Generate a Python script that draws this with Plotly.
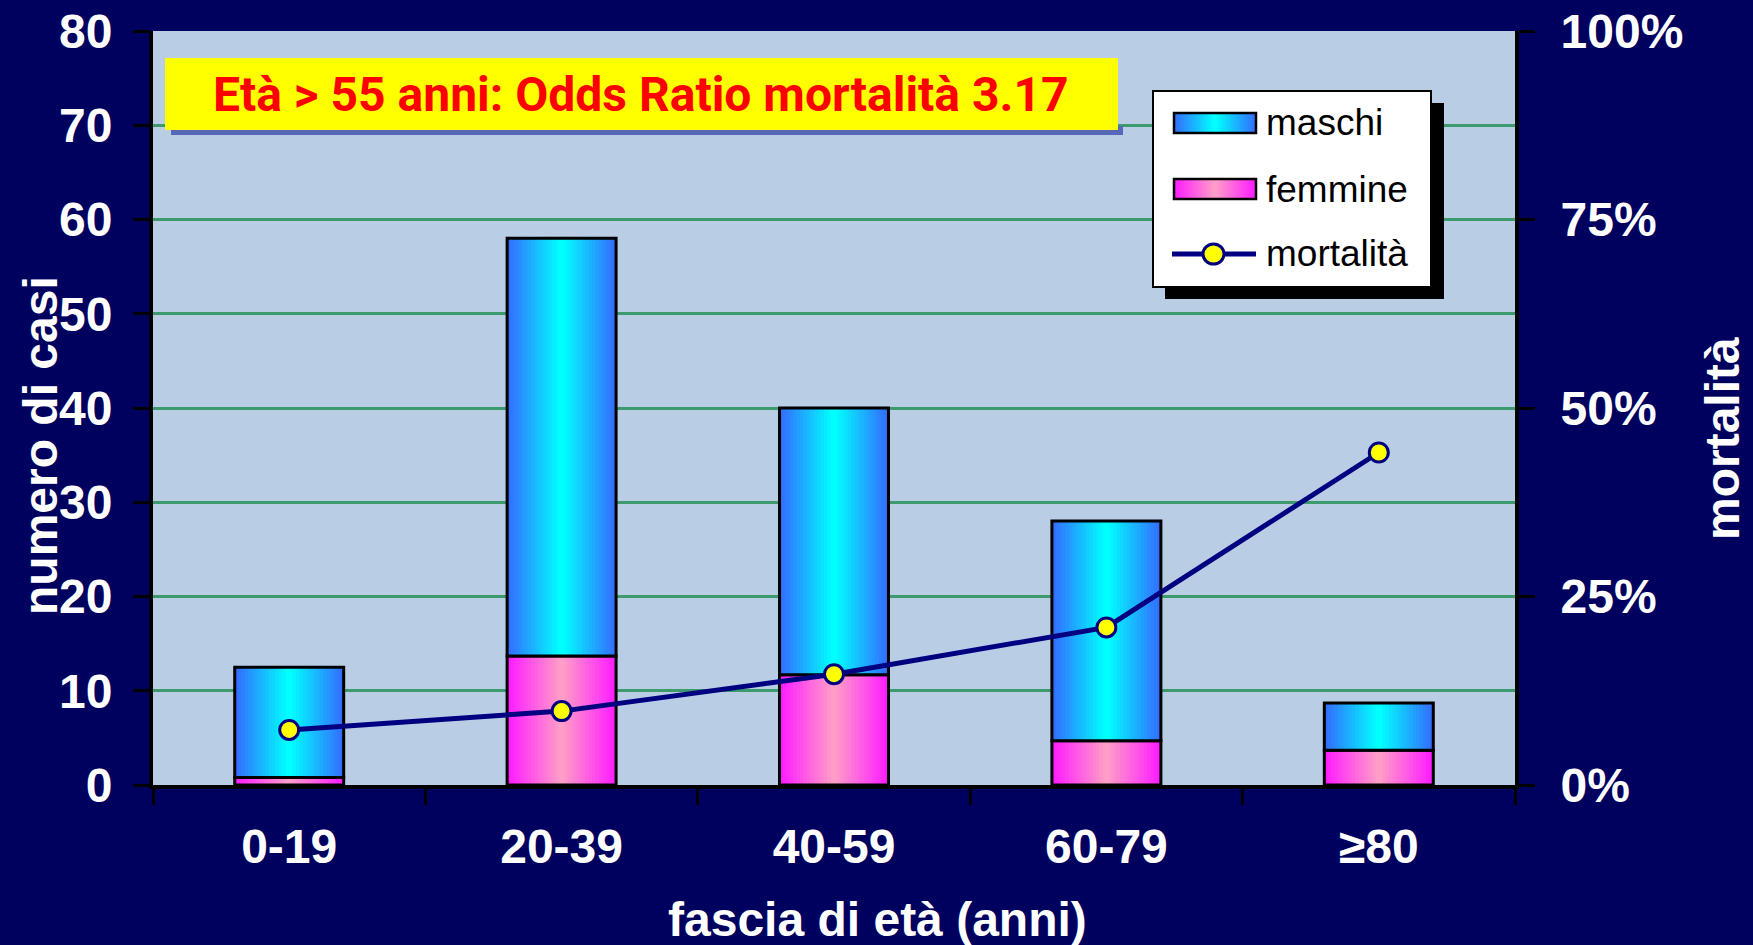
import plotly.graph_objects as go

# ---- data ----
categories = ["0-19", "20-39", "40-59", "60-79", "≥80"]
femmine = [0.8, 13.7, 11.7, 4.7, 3.7]
maschi = [11.7, 44.3, 28.3, 23.3, 5.0]
mortalita = [7.3, 9.8, 14.7, 20.9, 44.1]
y_ticks = [0, 10, 20, 30, 40, 50, 60, 70, 80]
y2_ticks = [0, 25, 50, 75, 100]
y2_ticklabels = ["0%", "25%", "50%", "75%", "100%"]

W, H = 1753, 945
L, R, T, B = 153, 1515, 31, 785
FONT = "Liberation Sans, Arial, sans-serif"
BAR_W = 0.40
N_STEPS = 16
BG = "#00005e"


def px_x(x):
    return (x - L) / (R - L)


def px_y(y):
    return (B - y) / (B - T)


def lerp(c1, c2, t):
    return "rgb(%d,%d,%d)" % tuple(round(a + (b - a) * t) for a, b in zip(c1, c2))


MAS_EDGE, MAS_CEN = (0x33, 0x6e, 0xff), (0x00, 0xff, 0xff)
FEM_EDGE, FEM_CEN = (0xff, 0x1e, 0xff), (0xff, 0x9c, 0xc8)

fig = go.Figure()

for vals, base, edge, cen in [(femmine, [0] * 5, FEM_EDGE, FEM_CEN),
                              (maschi, femmine, MAS_EDGE, MAS_CEN)]:
    for k in range(N_STEPS):
        t = k / (N_STEPS - 1)
        w = BAR_W * (1 - k / N_STEPS)
        fig.add_trace(go.Bar(x=categories, y=vals, base=base, width=w,
                             marker=dict(color=lerp(edge, cen, t), line=dict(width=0)),
                             showlegend=False, hoverinfo="skip"))
    fig.add_trace(go.Bar(x=categories, y=vals, base=base, width=BAR_W,
                         marker=dict(color="rgba(0,0,0,0)", line=dict(color="black", width=3)),
                         showlegend=False, hoverinfo="skip"))

fig.add_trace(go.Scatter(x=categories, y=mortalita, yaxis="y2", mode="lines+markers",
                         line=dict(color="#000080", width=5),
                         marker=dict(size=19, color="#ffff00", line=dict(color="#000080", width=3)),
                         showlegend=False, hoverinfo="skip"))

shapes = []
annots = []

# annotation box (yellow) with shadow
shapes.append(dict(type="rect", xref="paper", yref="paper", layer="above",
                   x0=px_x(171), x1=px_x(1123), y0=px_y(135), y1=px_y(126),
                   fillcolor="#5868b8", line=dict(width=0)))
shapes.append(dict(type="rect", xref="paper", yref="paper", layer="above",
                   x0=px_x(165), x1=px_x(1118), y0=px_y(130), y1=px_y(58),
                   fillcolor="#ffff00", line=dict(width=0)))
annots.append(dict(xref="paper", yref="paper", x=px_x(641), y=px_y(94), showarrow=False,
                   text="Età > 55 anni: Odds Ratio mortalità 3.17",
                   font=dict(family="Roboto, " + FONT, size=48, color="#ff0000", weight="bold"),
                   xanchor="center", yanchor="middle"))

# legend box with shadow
shapes.append(dict(type="rect", xref="paper", yref="paper", layer="above",
                   x0=px_x(1165), x1=px_x(1444), y0=px_y(299), y1=px_y(103),
                   fillcolor="black", line=dict(width=0)))
shapes.append(dict(type="rect", xref="paper", yref="paper", layer="above",
                   x0=px_x(1153), x1=px_x(1431), y0=px_y(287), y1=px_y(91),
                   fillcolor="white", line=dict(color="black", width=2)))

SW0, SW1 = 1174, 1256
n_sw = 20
for cy, edge, cen in [(123, MAS_EDGE, MAS_CEN), (189, FEM_EDGE, FEM_CEN)]:
    for k in range(n_sw):
        t = k / (n_sw - 1)
        half = (SW1 - SW0) / 2 * (1 - k / n_sw)
        mid = (SW0 + SW1) / 2
        shapes.append(dict(type="rect", xref="paper", yref="paper", layer="above",
                           x0=px_x(mid - half), x1=px_x(mid + half),
                           y0=px_y(cy + 10), y1=px_y(cy - 10),
                           fillcolor=lerp(edge, cen, t), line=dict(width=0)))
    shapes.append(dict(type="rect", xref="paper", yref="paper", layer="above",
                       x0=px_x(SW0), x1=px_x(SW1), y0=px_y(cy + 10), y1=px_y(cy - 10),
                       fillcolor="rgba(0,0,0,0)", line=dict(color="black", width=2.5)))

shapes.append(dict(type="line", xref="paper", yref="paper", layer="above",
                   x0=px_x(1172), x1=px_x(1256), y0=px_y(254), y1=px_y(254),
                   line=dict(color="#000080", width=5)))
shapes.append(dict(type="circle", xref="paper", yref="paper", layer="above",
                   x0=px_x(1203), x1=px_x(1224), y0=px_y(264), y1=px_y(244),
                   fillcolor="#ffff00", line=dict(color="#000080", width=3)))

for cy, txt in [(123, "maschi"), (189, "femmine"), (254, "mortalità")]:
    annots.append(dict(xref="paper", yref="paper", x=px_x(1264), y=px_y(cy), showarrow=False,
                       text=txt, font=dict(family=FONT, size=37, color="black"),
                       xanchor="left", yanchor="middle"))

# axis titles
annots.append(dict(xref="paper", yref="paper", x=px_x(40), y=px_y(446), showarrow=False,
                   text="numero di casi", textangle=-90,
                   font=dict(family=FONT, size=48, color="white", weight="bold"),
                   xanchor="center", yanchor="middle"))
annots.append(dict(xref="paper", yref="paper", x=px_x(1722), y=px_y(439), showarrow=False,
                   text="mortalità", textangle=-90,
                   font=dict(family=FONT, size=48, color="white", weight="bold"),
                   xanchor="center", yanchor="middle"))
annots.append(dict(xref="paper", yref="paper", x=px_x(877), y=px_y(919), showarrow=False,
                   text="fascia di età (anni)",
                   font=dict(family=FONT, size=48, color="white", weight="bold"),
                   xanchor="center", yanchor="middle"))

tickfont = dict(family=FONT, size=48, color="white", weight="bold")

fig.update_layout(
    width=W, height=H,
    margin=dict(l=L, r=W - R, t=T, b=H - B, autoexpand=False),
    paper_bgcolor=BG,
    plot_bgcolor="#b9cde5",
    barmode="overlay",
    showlegend=False,
    shapes=shapes,
    annotations=annots,
    xaxis=dict(type="category", categoryorder="array", categoryarray=categories,
               range=[-0.5, 4.5], showline=True, linecolor="black", linewidth=4,
               ticks="outside", tickson="boundaries", ticklen=16, tickwidth=3, tickcolor="black",
               showgrid=False, zeroline=False, tickfont=tickfont, ticklabelstandoff=16,
               automargin=False),
    yaxis=dict(range=[0, 80], tickvals=y_ticks, showline=True, linecolor="black", linewidth=4,
               ticks="outside", ticklen=16, tickwidth=3, tickcolor="black",
               gridcolor="#3c9a6c", gridwidth=2.5, zeroline=False,
               tickfont=tickfont, ticklabelstandoff=11, automargin=False),
    yaxis2=dict(range=[0, 100], tickmode="array", tickvals=y2_ticks, ticktext=y2_ticklabels,
                overlaying="y", side="right",
                showline=True, linecolor="black", linewidth=4,
                ticks="outside", ticklen=16, tickwidth=3, tickcolor="black",
                showgrid=False, zeroline=False, tickfont=tickfont, ticklabelstandoff=16,
                automargin=False),
)

fig.write_html("out.html", config={"displayModeBar": False},
               post_script="document.body.style.margin='0';document.body.style.padding='0';"
                           "document.body.style.background='%s';"
                           "document.documentElement.style.background='%s';" % (BG, BG))
